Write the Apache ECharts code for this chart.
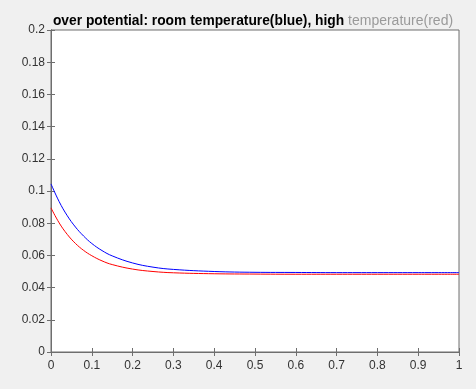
<!DOCTYPE html>
<html>
<head>
<meta charset="utf-8">
<script src="https://cdn.jsdelivr.net/npm/echarts@6/dist/echarts.min.js"></script>
<style>
html,body{margin:0;padding:0;background:#f0f0f0;}
#c{width:476px;height:389px;}
</style>
</head>
<body>
<div id="c"></div>
<script>
const xValues = [0, 0.02, 0.04, 0.06, 0.08, 0.1, 0.125, 0.15, 0.2, 0.25, 0.3, 0.4, 0.5, 0.6, 0.7, 0.8, 0.9, 1.0];
const roomTemp = [0.1044, 0.0934, 0.0846, 0.0776, 0.0720, 0.0674, 0.0630, 0.0597, 0.0553, 0.0527, 0.0513, 0.0500, 0.0495, 0.0494, 0.0493, 0.0493, 0.0493, 0.0493];
const highTemp = [0.0895, 0.0802, 0.0730, 0.0674, 0.0631, 0.0598, 0.0566, 0.0543, 0.0515, 0.0500, 0.0492, 0.0486, 0.0484, 0.0483, 0.0483, 0.0483, 0.0483, 0.0483];
const titleMain = 'over potential: room temperature(blue), high ';
const titleFaded = 'temperature(red)';

const axisColor = '#6e6e6e';
const fontFam = 'Liberation Sans, Arial, sans-serif';
const labelStyle = {color: '#333333', fontSize: 12, fontFamily: fontFam};

const chart = echarts.init(document.getElementById('c'), null, {renderer: 'canvas'});
chart.setOption({
  backgroundColor: '#f0f0f0',
  animation: false,
  title: {
    text: '{a|' + titleMain + '}{b|' + titleFaded + '}',
    left: 248, textAlign: 'center', top: 9,
    textStyle: {
      rich: {
        a: {fontWeight: 'bold', fontSize: 13.8, color: '#000', fontFamily: fontFam},
        b: {fontWeight: 'normal', fontSize: 14, color: '#9a9a9a', fontFamily: fontFam}
      }
    }
  },
  grid: {left: 51, right: 17, top: 30, bottom: 37, show: true, backgroundColor: '#ffffff', borderColor: axisColor, borderWidth: 1},
  xAxis: [
    {type: 'value', min: 0, max: 1, interval: 0.1, position: 'bottom',
     axisLine: {show: true, lineStyle: {color: axisColor}},
     axisTick: {show: true, inside: true, length: 4, lineStyle: {color: axisColor}},
     axisLabel: Object.assign({margin: 8, formatter: v => String(Math.round(v*10)/10)}, labelStyle),
     splitLine: {show: false}},
    {type: 'value', min: 0, max: 1, interval: 0.1, position: 'top',
     axisLine: {show: true, lineStyle: {color: axisColor}},
     axisTick: {show: true, inside: true, length: 4, lineStyle: {color: axisColor}},
     axisLabel: {show: false}, splitLine: {show: false}}
  ],
  yAxis: [
    {type: 'value', min: 0, max: 0.2, interval: 0.02, position: 'left',
     axisLine: {show: true, lineStyle: {color: axisColor}},
     axisTick: {show: true, inside: true, length: 4, lineStyle: {color: axisColor}},
     axisLabel: Object.assign({margin: 6, formatter: v => String(Math.round(v*100)/100)}, labelStyle),
     splitLine: {show: false}},
    {type: 'value', min: 0, max: 0.2, interval: 0.02, position: 'right',
     axisLine: {show: true, lineStyle: {color: axisColor}},
     axisTick: {show: true, inside: true, length: 4, lineStyle: {color: axisColor}},
     axisLabel: {show: false}, splitLine: {show: false}}
  ],
  series: [
    {type: 'line', name: 'room', data: xValues.map((x, i) => [x, roomTemp[i]]), smooth: 0.4, showSymbol: false,
     lineStyle: {color: '#0000ff', width: 1}},
    {type: 'line', name: 'high', data: xValues.map((x, i) => [x, highTemp[i]]), smooth: 0.4, showSymbol: false,
     lineStyle: {color: '#ff0000', width: 1}}
  ]
});
</script>
</body>
</html>
